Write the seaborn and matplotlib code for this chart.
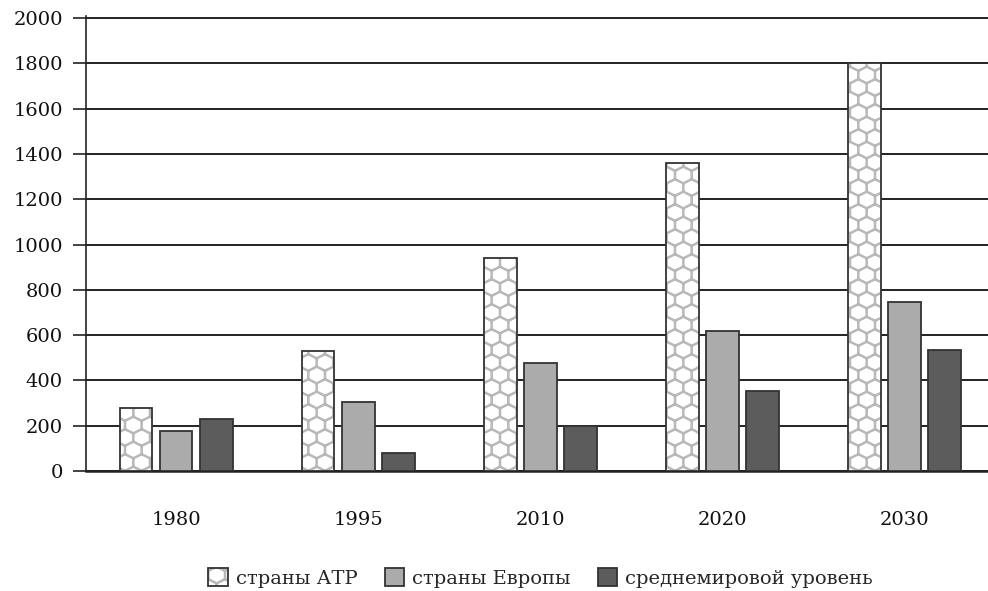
import numpy as np
import pandas as pd
import matplotlib
matplotlib.use("Agg")
import matplotlib.pyplot as plt
import matplotlib.hatch as mhatch
from matplotlib.path import Path
from matplotlib.colors import to_rgba
import seaborn as sns

# data
years = ["1980", "1995", "2010", "2020", "2030"]
series = ["страны АТР", "страны Европы", "среднемировой уровень"]
atr = [280, 530, 940, 1360, 1800]
europe = [175, 305, 475, 620, 745]
world = [230, 80, 200, 355, 535]
yticks = [0, 200, 400, 600, 800, 1000, 1200, 1400, 1600, 1800, 2000]


# honeycomb hatch, takes the place of the '*' (stars) pattern
class Honeycomb(mhatch.HatchPatternBase):
    def __init__(self, hatch, density):
        self.segs = []
        if hatch.count('*') > 0:
            ncol, nrow = 6, 8
            w = 1.0 / ncol
            r = 1.0 / (1.5 * nrow)
            for j in range(-1, nrow + 2):
                cy = j * 1.5 * r
                off = (w / 2) if j % 2 else 0.0
                for i in range(-1, ncol + 2):
                    cx = i * w + off
                    # left side, upper-left edge, upper-right edge
                    pts = [(cx - w / 2, cy - r / 2), (cx - w / 2, cy + r / 2),
                           (cx, cy + r), (cx + w / 2, cy + r / 2)]
                    for k in range(3):
                        self.segs.append((pts[k], pts[k + 1]))
        self.num_vertices = len(self.segs) * 2

    def set_vertices_and_codes(self, vertices, codes):
        for n, (a, b) in enumerate(self.segs):
            vertices[2 * n] = a
            vertices[2 * n + 1] = b
            codes[2 * n] = Path.MOVETO
            codes[2 * n + 1] = Path.LINETO


mhatch._hatch_types = [t for t in mhatch._hatch_types if t is not mhatch.Stars] + [Honeycomb]

sns.set_style("white")
plt.rcParams["font.family"] = ["DejaVu Serif"]
plt.rcParams["hatch.linewidth"] = 1.8

df = pd.DataFrame({
    "year": years * 3,
    "series": [series[0]] * 5 + [series[1]] * 5 + [series[2]] * 5,
    "value": atr + europe + world,
})

fig = plt.figure(figsize=(9.88, 5.91), dpi=100)
ax = fig.add_axes([0.087, 0.203, 0.913, 0.7704])

sns.barplot(data=df, x="year", y="value", hue="series", hue_order=series,
            palette=["white", "#ababab", "#5c5c5c"], width=0.66, gap=0.18,
            edgecolor="#333333", linewidth=1.3, legend=False, ax=ax, zorder=3)

hatch_gray = to_rgba("#b8b8b8")
for p in ax.containers[0]:
    p.set_hatch("*")
    p._hatch_color = hatch_gray

ax.set_ylim(0, 2010)
ax.set_xlim(-0.495, 4.46)
ax.set_yticks(yticks)
ax.set_xlabel("")
ax.set_ylabel("")
ax.set_axisbelow(True)
ax.yaxis.grid(True, color="#222222", linewidth=1.4)
ax.xaxis.grid(False)
for s in ["top", "right"]:
    ax.spines[s].set_visible(False)
ax.spines["left"].set_color("#222222")
ax.spines["left"].set_linewidth(1.2)
ax.spines["bottom"].set_color("#222222")
ax.spines["bottom"].set_linewidth(1.8)
ax.tick_params(axis="y", length=9.5, width=1.2, color="#222222", pad=7,
               labelsize=14, labelcolor="#111111", left=True)
ax.tick_params(axis="x", length=0, pad=29, labelsize=14, labelcolor="#111111")

handles = list(ax.containers)
fig.legend(handles, series, loc="center", bbox_to_anchor=(0.547, 0.022), ncol=3,
           frameon=False, fontsize=14, handlelength=1.0, handleheight=1.0,
           handletextpad=0.4, columnspacing=1.4)

fig.savefig("out.png", dpi=100)
